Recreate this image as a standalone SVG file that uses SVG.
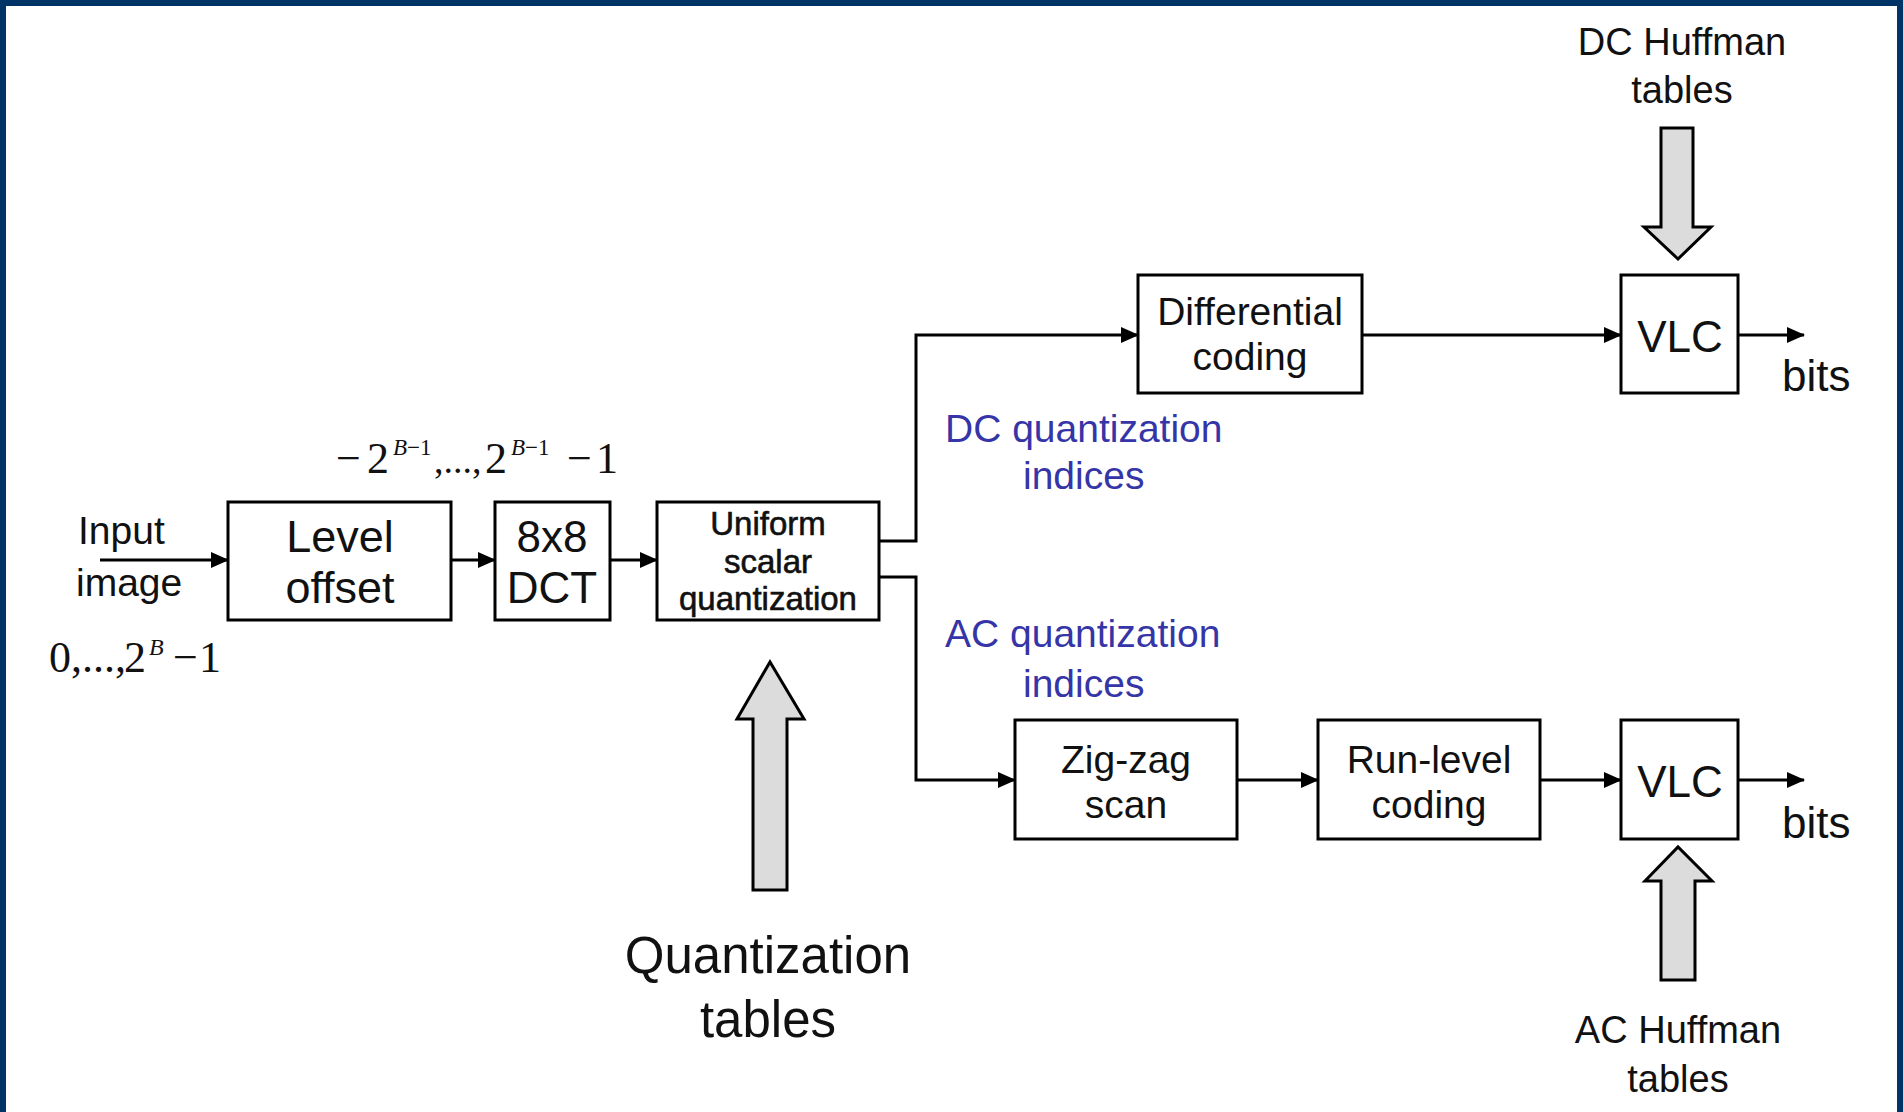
<svg xmlns="http://www.w3.org/2000/svg" width="1903" height="1112" viewBox="0 0 1903 1112">
<style>
.box{fill:#fff;stroke:#000;stroke-width:3}
.t{font-family:"Liberation Sans",Arial,sans-serif;fill:#111;text-anchor:middle}
.tl{font-family:"Liberation Sans",Arial,sans-serif;fill:#111}
.blue{font-family:"Liberation Sans",Arial,sans-serif;fill:#3535a8;font-size:39px}
.m{font-family:"Liberation Serif","Times New Roman",serif;fill:#111;font-size:44px}
.c{fill:none;stroke:#000;stroke-width:3}
.big{fill:#dcdcdc;stroke:#000;stroke-width:3;stroke-linejoin:miter}
</style>
<defs>
<marker id="ah" markerUnits="userSpaceOnUse" markerWidth="18" markerHeight="16" refX="17" refY="8" orient="auto">
<path d="M0,0 L18,8 L0,16 z" fill="#000"/>
</marker>
</defs>
<rect x="0" y="0" width="1903" height="1112" fill="#fff"/>
<path d="M0,0 H1903 V1112 H1897 V6 H6 V1112 H0 Z" fill="#003366"/>

<g id="connectors">
<line class="c" x1="100" y1="560" x2="228" y2="560" marker-end="url(#ah)"/>
<line class="c" x1="451" y1="560" x2="495" y2="560" marker-end="url(#ah)"/>
<line class="c" x1="610" y1="560" x2="657" y2="560" marker-end="url(#ah)"/>
<polyline class="c" points="879,541 916,541 916,335 1138,335" marker-end="url(#ah)"/>
<polyline class="c" points="879,577 916,577 916,780 1015,780" marker-end="url(#ah)"/>
<line class="c" x1="1362" y1="335" x2="1621" y2="335" marker-end="url(#ah)"/>
<line class="c" x1="1738" y1="335" x2="1804" y2="335" marker-end="url(#ah)"/>
<line class="c" x1="1237" y1="780" x2="1318" y2="780" marker-end="url(#ah)"/>
<line class="c" x1="1540" y1="780" x2="1621" y2="780" marker-end="url(#ah)"/>
<line class="c" x1="1738" y1="780" x2="1804" y2="780" marker-end="url(#ah)"/>
</g>

<g id="input">
<text class="tl" x="78" y="544" font-size="39">Input</text>
<text class="tl" x="76" y="596" font-size="39">image</text>
<text class="m" font-size="42" y="672"><tspan x="49">0,...,</tspan><tspan x="124">2</tspan><tspan x="149" y="655" font-size="24" font-style="italic">B</tspan><tspan x="173" y="672">−</tspan><tspan x="199">1</tspan></text>
</g>

<g id="level-offset">
<rect class="box" x="228" y="502" width="223" height="118"/>
<text class="t" x="340" y="552" font-size="45">Level</text>
<text class="t" x="340" y="603" font-size="45">offset</text>
</g>

<text id="range-label" class="m" y="473"><tspan x="336">−</tspan><tspan x="367">2</tspan><tspan x="393" y="455" font-size="23"><tspan font-style="italic">B</tspan>−1</tspan><tspan x="434" y="473" font-size="38">,...,</tspan><tspan x="485">2</tspan><tspan x="511" y="455" font-size="23"><tspan font-style="italic">B</tspan>−1</tspan><tspan x="567" y="473">−</tspan><tspan x="596">1</tspan></text>

<g id="dct">
<rect class="box" x="495" y="502" width="115" height="118"/>
<text class="t" x="552" y="552" font-size="44">8x8</text>
<text class="t" x="552" y="603" font-size="44">DCT</text>
</g>

<g id="quantizer">
<rect class="box" x="657" y="502" width="222" height="118"/>
<text class="t" x="768" y="535" font-size="33" stroke="#111" stroke-width="0.6">Uniform</text>
<text class="t" x="768" y="573" font-size="33" stroke="#111" stroke-width="0.6">scalar</text>
<text class="t" x="768" y="610" font-size="33" stroke="#111" stroke-width="0.6">quantization</text>
</g>

<g id="quant-tables">
<path class="big" d="M753,890 V719 H737 L770,662 L804,719 H787 V890 Z"/>
<text class="t" x="768" y="973" font-size="51">Quantization</text>
<text class="t" x="768" y="1037" font-size="51">tables</text>
</g>

<g id="dc-label">
<text class="blue" x="945" y="442">DC quantization</text>
<text class="blue" x="1023" y="489">indices</text>
</g>
<g id="ac-label">
<text class="blue" x="945" y="647">AC quantization</text>
<text class="blue" x="1023" y="697">indices</text>
</g>

<g id="differential">
<rect class="box" x="1138" y="275" width="224" height="118"/>
<text class="t" x="1250" y="325" font-size="39">Differential</text>
<text class="t" x="1250" y="370" font-size="39">coding</text>
</g>

<g id="zigzag">
<rect class="box" x="1015" y="720" width="222" height="119"/>
<text class="t" x="1126" y="773" font-size="39">Zig-zag</text>
<text class="t" x="1126" y="818" font-size="39">scan</text>
</g>

<g id="runlevel">
<rect class="box" x="1318" y="720" width="222" height="119"/>
<text class="t" x="1429" y="773" font-size="39">Run-level</text>
<text class="t" x="1429" y="818" font-size="39">coding</text>
</g>

<g id="vlc-dc">
<rect class="box" x="1621" y="275" width="117" height="118"/>
<text class="t" x="1680" y="352" font-size="44">VLC</text>
</g>
<text id="bits-dc" class="tl" x="1782" y="391" font-size="44">bits</text>

<g id="vlc-ac">
<rect class="box" x="1621" y="720" width="117" height="119"/>
<text class="t" x="1680" y="797" font-size="44">VLC</text>
</g>
<text id="bits-ac" class="tl" x="1782" y="838" font-size="44">bits</text>

<g id="dc-huffman">
<text class="t" x="1682" y="55" font-size="38">DC Huffman</text>
<text class="t" x="1682" y="103" font-size="38">tables</text>
<path class="big" d="M1661,128 H1693 V227 H1711 L1678,259 L1644,227 H1661 Z"/>
</g>

<g id="ac-huffman">
<path class="big" d="M1661,980 V881 H1645 L1678,847 L1712,881 H1695 V980 Z"/>
<text class="t" x="1678" y="1043" font-size="38">AC Huffman</text>
<text class="t" x="1678" y="1092" font-size="38">tables</text>
</g>
</svg>
